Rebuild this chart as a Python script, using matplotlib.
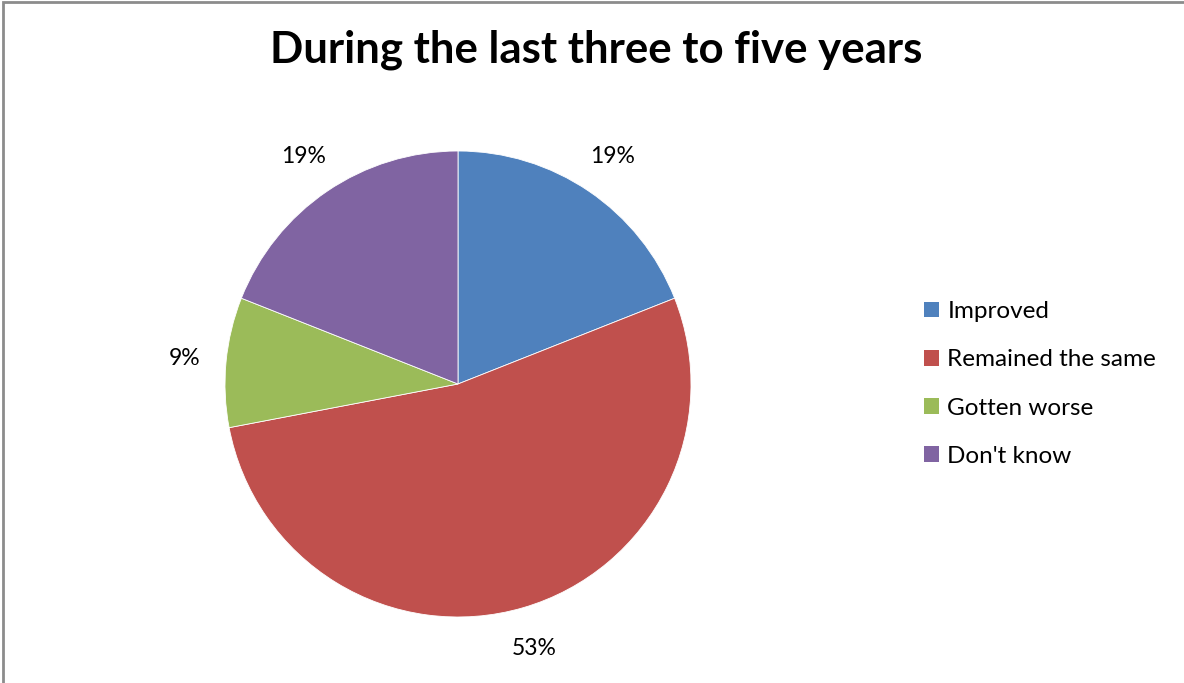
import matplotlib
matplotlib.use("Agg")
import matplotlib.pyplot as plt
from matplotlib.patches import Rectangle, Patch

plt.rcParams['font.family'] = ['Lato', 'DejaVu Sans']

categories = ["Improved", "Remained the same", "Gotten worse", "Don't know"]
shares = [19, 53, 9, 19]
colors = ["#4F81BD", "#C0504D", "#9BBB59", "#8064A2"]
title = "During the last three to five years"

W, H = 1184, 683
fig = plt.figure(figsize=(W / 100, H / 100), dpi=100)

# grey frame of the chart area (top and left edge visible)
fig.add_artist(Rectangle((3 / W, -0.05), 1.2, 1 - 2 / H + 0.05, transform=fig.transFigure,
                         fill=False, edgecolor="#8c8c8c", linewidth=2))

cx, cy, r = 458, 384, 233
ax = fig.add_axes([(cx - r) / W, (H - cy - r) / H, 2 * r / W, 2 * r / H])
wedges, _, autotexts = ax.pie(shares, colors=colors, startangle=90, counterclock=False,
                              radius=1, autopct=lambda p: f"{p:.0f}%", pctdistance=1.18,
                              wedgeprops=dict(edgecolor="white", linewidth=0.6),
                              textprops=dict(fontsize=16.5, color="black"))
ax.set_xlim(-1, 1)
ax.set_ylim(-1, 1)
ax.set_aspect("equal")

fig.text(596 / W, 1 - 50 / H, title, ha="center", va="center",
         fontsize=31.5, fontweight="bold")

handles = [Patch(facecolor=c, edgecolor="none") for c in colors]
fig.legend(handles, categories, loc="center left", bbox_to_anchor=(902 / W, 1 - 384 / H),
           frameon=False, fontsize=17.5, handlelength=0.62, handleheight=0.62,
           handletextpad=0.35, labelspacing=1.12)

fig.savefig("out.png", dpi=100)
